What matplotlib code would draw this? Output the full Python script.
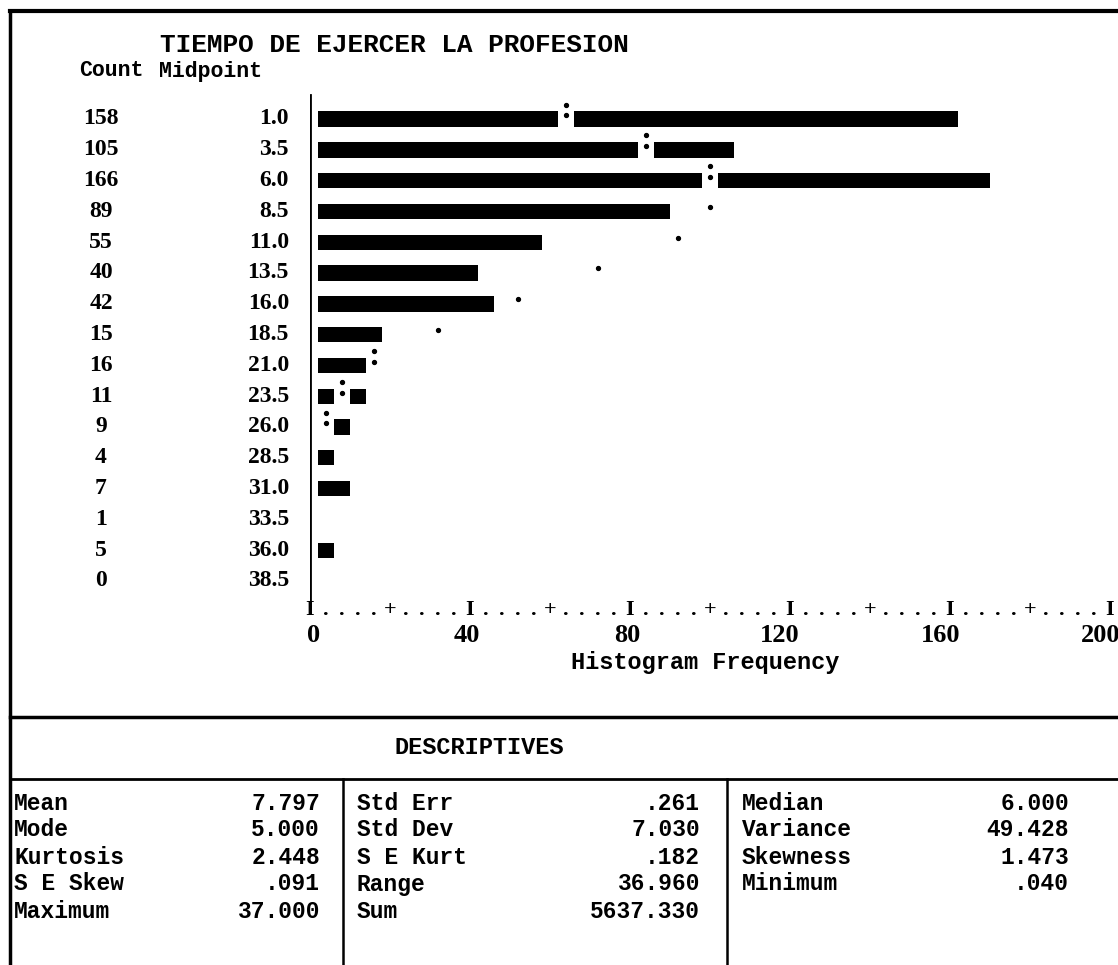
import matplotlib.pyplot as plt
import matplotlib.transforms as mtransforms
import numpy as np

# histogram table (SPSS text-mode output)
title = 'TIEMPO DE EJERCER LA PROFESION'
counts = [158, 105, 166, 89, 55, 40, 42, 15, 16, 11, 9, 4, 7, 1, 5, 0]
midpoints = ['1.0', '3.5', '6.0', '8.5', '11.0', '13.5', '16.0', '18.5',
             '21.0', '23.5', '26.0', '28.5', '31.0', '33.5', '36.0', '38.5']
# normal curve positions as printed (nan = not shown)
normal_pts = [64, 84, 100, 100, 92, 72, 52, 32, 16, 8, 4,
              np.nan, np.nan, np.nan, np.nan, np.nan]
xticks = [0, 40, 80, 120, 160, 200]

# descriptives block: three columns of (name, value)
desc_col1 = [('Mean', '7.797'), ('Mode', '5.000'), ('Kurtosis', '2.448'),
             ('S E Skew', '.091'), ('Maximum', '37.000')]
desc_col2 = [('Std Err', '.261'), ('Std Dev', '7.030'), ('S E Kurt', '.182'),
             ('Range', '36.960'), ('Sum', '5637.330')]
desc_col3 = [('Median', '6.000'), ('Variance', '49.428'),
             ('Skewness', '1.473'), ('Minimum', '.040')]

W, H = 1118, 965
MONO = ['Liberation Mono', 'DejaVu Sans Mono']
SERIF = ['Liberation Serif', 'DejaVu Serif']

fig = plt.figure(figsize=(W / 100, H / 100), dpi=100)


def fx(px):
    return px / W


def fy(py):
    return 1 - py / H


# row geometry (pixels from top)
ROW0, PITCH = 119, 30.8
AX_TOP, AX_BOT = 92, 610


def row_of(py):
    return (py - ROW0) / PITCH


ax = fig.add_axes([fx(310), fy(AX_BOT), fx(1110) - fx(310), fy(AX_TOP) - fy(AX_BOT)])
ax.set_xlim(0, 200)
ax.set_ylim(row_of(AX_BOT), row_of(AX_TOP))
ax.axis('off')

rows = np.arange(len(counts))
cell = 4  # one printed character = 4 units
cells = np.floor(np.array(counts) / cell + 0.5) * cell
bar_h = 0.5
ax.barh(rows, cells, left=cell / 2, height=bar_h, color='black')

# normal curve: ':' blanks a bar cell, '.' outside the bar
for r, v in zip(rows, normal_pts):
    if np.isnan(v):
        continue
    if v <= cells[r] + cell / 2:
        ax.barh(r, cell, left=v - cell / 2, height=bar_h + 0.04, color='white')
        ax.plot([v, v], [r - 0.47, r - 0.12], ls='none', marker='o',
                ms=2.8, color='black')
    else:
        ax.plot(v, r - 0.15, marker='o', ms=2.8, color='black')

# vertical axis line
ax.plot([0, 0], [row_of(AX_TOP + 3), row_of(AX_BOT - 6)], color='black', lw=2)

# text-mode tick row  I....+....I
tr = mtransforms.blended_transform_factory(ax.transData, ax.transAxes)
for x in np.arange(0, 201, cell):
    if x % 40 == 0:
        ch = 'I'
    elif x % 20 == 0:
        ch = '+'
    else:
        ch = '.'
    ax.text(x, 0, ch, transform=tr, ha='center', va='center',
            fontsize=16, family=SERIF, fontweight='bold', clip_on=False)
for t in xticks:
    ax.text(t + 2.5, row_of(636), str(t), ha='right', va='center',
            fontsize=19, family=SERIF, fontweight='bold', clip_on=False)
fig.text(fx(705), fy(662), 'Histogram Frequency', ha='center', va='center',
         fontsize=17, family=MONO, fontweight='bold')

# header and row labels
fig.text(fx(160), fy(45), title, ha='left', va='center', fontsize=18.8,
         family=MONO, fontweight='bold')
fig.text(fx(79), fy(71), 'Count', ha='left', va='center', fontsize=15.5,
         family=MONO, fontweight='bold')
fig.text(fx(159), fy(71), 'Midpoint', ha='left', va='center', fontsize=15.5,
         family=MONO, fontweight='bold')
lt = mtransforms.blended_transform_factory(fig.transFigure, ax.transData)
for r, (c, m) in enumerate(zip(counts, midpoints)):
    ax.text(fx(101), r, str(c), transform=lt, ha='center', va='center',
            fontsize=17, family=SERIF, fontweight='bold', clip_on=False)
    ax.text(fx(289), r, m, transform=lt, ha='right', va='center',
            fontsize=17, family=SERIF, fontweight='bold', clip_on=False)

# frame and descriptives table
lines = fig.add_axes([0, 0, 1, 1])
lines.set_xlim(0, W)
lines.set_ylim(H, 0)
lines.axis('off')
lines.plot([10, W], [11, 11], color='black', lw=3)
lines.plot([10, 10], [11, H], color='black', lw=2.5)
lines.plot([10, W], [717, 717], color='black', lw=2.5)
lines.plot([10, W], [779, 779], color='black', lw=2)
lines.plot([343, 343], [779, H], color='black', lw=1.8)
lines.plot([727, 727], [779, H], color='black', lw=1.8)

fig.text(fx(479), fy(748), 'DESCRIPTIVES', ha='center', va='center',
         fontsize=17, family=MONO, fontweight='bold')

desc_rows = [803, 830, 857, 884, 911]
for col, (lx, vx) in zip([desc_col1, desc_col2, desc_col3],
                         [(14, 320), (357, 700), (742, 1069)]):
    for (name, val), py in zip(col, desc_rows):
        fig.text(fx(lx), fy(py), name, ha='left', va='center', fontsize=16.5,
                 family=MONO, fontweight='bold')
        fig.text(fx(vx), fy(py), val, ha='right', va='center', fontsize=16.5,
                 family=MONO, fontweight='bold')

fig.savefig('out.png', dpi=100, facecolor='white')
